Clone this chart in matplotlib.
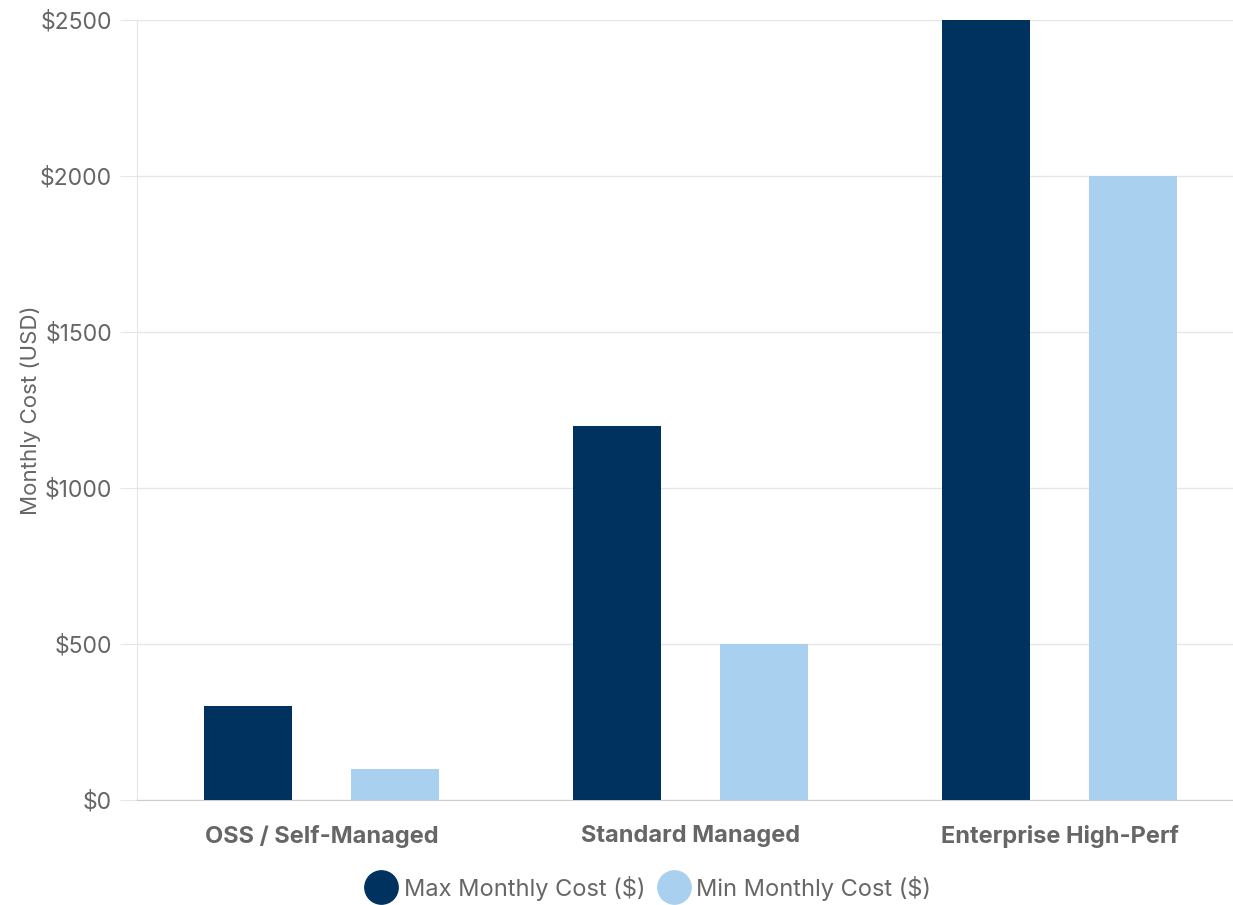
import numpy as np
import matplotlib.pyplot as plt
from matplotlib.lines import Line2D

plt.rcParams['font.family'] = ['Inter', 'DejaVu Sans']

# Monthly cost ranges per deployment tier
tiers = ['OSS / Self-Managed', 'Standard Managed', 'Enterprise High-Perf']
max_cost = [300, 1200, 2500]
min_cost = [100, 500, 2000]

navy = '#00325f'
light_blue = '#aad0f0'
text_gray = '#666666'
grid_gray = '#e6e6e6'

fig = plt.figure(figsize=(12.33, 9.05), dpi=100)
ax = fig.add_axes([137 / 1233, 1 - 800 / 905, 1107 / 1233, 780 / 905])

x = np.arange(len(tiers))
w = 0.2385
off = 0.2005
ax.bar(x - off, max_cost, width=w, color=navy, zorder=3)
ax.bar(x + off, min_cost, width=w, color=light_blue, zorder=3)

ax.set_xlim(-0.5, 2.5)
ax.set_ylim(0, 2500)
ax.set_yticks(range(0, 2501, 500))
ax.set_yticklabels(['$' + str(v) for v in range(0, 2501, 500)])
ax.set_xticks(x)
ax.set_xticklabels(tiers, fontweight='bold')

ax.grid(axis='y', color=grid_gray, linewidth=1, zorder=0)
for s in ['top', 'right']:
    ax.spines[s].set_visible(False)
ax.spines['left'].set_color(grid_gray)
ax.spines['bottom'].set_color('#cccccc')
ax.tick_params(axis='y', length=12, color=grid_gray, labelsize=16.5,
               labelcolor=text_gray, pad=6)
ax.tick_params(axis='x', length=0, labelsize=17, labelcolor=text_gray, pad=18)

ax.set_ylabel('Monthly Cost (USD)', fontsize=16, color=text_gray, labelpad=-1)

handles = [
    Line2D([], [], marker='o', linestyle='', markersize=24,
           markerfacecolor=navy, markeredgecolor=navy),
    Line2D([], [], marker='o', linestyle='', markersize=24,
           markerfacecolor=light_blue, markeredgecolor=light_blue),
]
fig.legend(handles, ['Max Monthly Cost ($)', 'Min Monthly Cost ($)'],
           loc='center', bbox_to_anchor=(648 / 1233, 1 - 888 / 905), ncol=2,
           frameon=False, fontsize=17, labelcolor=text_gray,
           handletextpad=0.25, columnspacing=0.5, handlelength=1.4)

fig.savefig('out.png', dpi=100)
